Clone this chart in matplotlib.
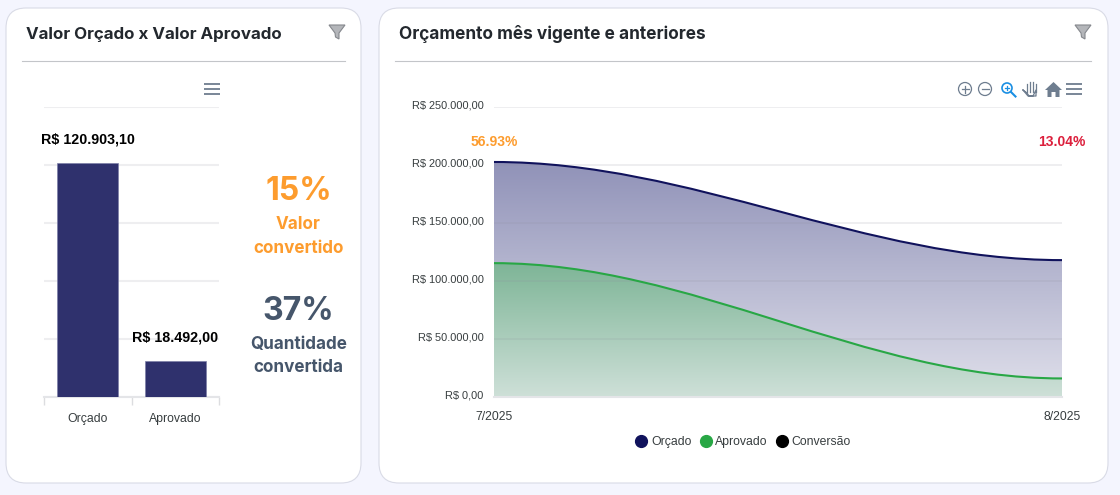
import numpy as np
import matplotlib
matplotlib.use('Agg')
import matplotlib.pyplot as plt
from matplotlib.lines import Line2D
from matplotlib.patches import Circle, FancyBboxPatch, PathPatch, Polygon
from matplotlib.path import Path
from matplotlib.transforms import ScaledTranslation

W, H = 1120, 495

# left chart
bar_labels = ["Orçado", "Aprovado"]
bar_values = [120903.10, 18492.00]
bar_texts = ["R$ 120.903,10", "R$ 18.492,00"]

# right chart
months = ["7/2025", "8/2025"]
orcado = [202600, 118000]
aprovado = [115400, 16000]
conversao = ["56.93%", "13.04%"]
y_ticks = [0, 50000, 100000, 150000, 200000, 250000]
y_labels = ["R$ 0,00", "R$ 50.000,00", "R$ 100.000,00", "R$ 150.000,00", "R$ 200.000,00", "R$ 250.000,00"]

NAVY = "#10125c"
GREEN = "#28a745"
ORANGE = "#fd9c2e"
SLATE = "#46566b"
GRID = "#eeeef0"
ICON = "#6e7d8f"
TITLE_FONT = "Inter"
ARIAL = "Liberation Sans"


def axes_px(fig, left, top, right, bottom):
    return fig.add_axes([left / W, 1 - bottom / H, (right - left) / W, (bottom - top) / H])


def smooth_path(y0, y1, closed=False):
    # ApexCharts style smooth segment between the two points
    verts = [(0, y0), (0.35, y0), (0.65, y1), (1, y1)]
    codes = [Path.MOVETO, Path.CURVE4, Path.CURVE4, Path.CURVE4]
    if closed:
        verts = [(0, 0), (0, y0)] + verts[1:] + [(1, 0), (0, 0)]
        codes = [Path.MOVETO, Path.LINETO] + codes[1:] + [Path.LINETO, Path.CLOSEPOLY]
    return Path(verts, codes)


def gradient_area(ax, y0, y1, top_color, bottom_color, zorder):
    c0 = np.array(matplotlib.colors.to_rgb(top_color))
    c1 = np.array(matplotlib.colors.to_rgb(bottom_color))
    t = np.linspace(0, 1, 256)[:, None, None]
    img = c0[None, None, :] * (1 - t) + c1[None, None, :] * t
    top = max(y0, y1)
    im = ax.imshow(img, extent=[0, 1, 0, top], origin="upper", aspect="auto", zorder=zorder)
    patch = PathPatch(smooth_path(y0, y1, closed=True), transform=ax.transData, fc="none", ec="none")
    ax.add_patch(patch)
    im.set_clip_path(patch)


def funnel(bg, x, y):
    bg.add_patch(Polygon([(x, y), (x + 16, y), (x + 10, y + 8), (x + 10, y + 14), (x + 6.5, y + 12), (x + 6, y + 8)],
                         closed=True, fc="#b4b6ba", ec="#85888d", lw=0.8))


def hamburger(bg, x0, x1, y):
    for dy in (-5, 0, 5):
        bg.plot([x0, x1], [y + dy, y + dy], color=ICON, lw=1.3, solid_capstyle="butt")


fig = plt.figure(figsize=(W / 100, H / 100), dpi=100, facecolor="#f4f5fe")

# page layer in pixel coordinates, cards and icons
bg = fig.add_axes([0, 0, 1, 1])
bg.set_xlim(0, W)
bg.set_ylim(H, 0)
bg.axis("off")

for x0, x1 in [(6, 361), (379, 1108)]:
    bg.add_patch(FancyBboxPatch((x0 + 20, 8 + 20), x1 - x0 - 40, 475 - 40, boxstyle="round,pad=20,rounding_size=20",
                                fc="white", ec="#d9dbe6", lw=0.8))

bg.text(26, 34, "Valor Orçado x Valor Aprovado", family=TITLE_FONT, weight="bold", fontsize=12.2,
        color="#23282e", va="center")
bg.text(399, 34, "Orçamento mês vigente e anteriores", family=TITLE_FONT, weight="bold", fontsize=12.4,
        color="#23282e", va="center")
bg.plot([22, 345], [60.5, 60.5], color="#c3c5c9", lw=0.8)
bg.plot([395, 1091], [60.5, 60.5], color="#c3c5c9", lw=0.8)
funnel(bg, 329, 25)
funnel(bg, 1075, 25)
hamburger(bg, 204, 220, 89)
hamburger(bg, 1066, 1082, 89)

# right chart toolbar
bg.add_patch(Circle((965, 89), 6.5, fc="none", ec=ICON, lw=0.9))
bg.plot([961.5, 968.5], [89, 89], color=ICON, lw=0.9)
bg.plot([965, 965], [85.5, 92.5], color=ICON, lw=0.9)
bg.add_patch(Circle((985, 89), 6.5, fc="none", ec=ICON, lw=0.9))
bg.plot([981.5, 988.5], [89, 89], color=ICON, lw=0.9)
bg.add_patch(Circle((1007, 88), 5, fc="none", ec="#1a8fe3", lw=1.2))
bg.plot([1011, 1015.5], [92, 96.5], color="#1a8fe3", lw=1.5)
bg.plot([1005, 1009], [88, 88], color="#1a8fe3", lw=0.9)
bg.plot([1007, 1007], [86, 90], color="#1a8fe3", lw=0.9)
for hx, htop in [(1027, 84), (1030, 82), (1033, 82), (1036, 84)]:
    bg.plot([hx, hx], [htop, 92], color=ICON, lw=0.9)
bg.plot([1023, 1027, 1029, 1036, 1036, 1033, 1028, 1023], [90, 93, 96, 96, 90, 96, 96, 90], color=ICON, lw=0.9)
bg.add_patch(Polygon([(1045, 90), (1053.5, 82), (1062, 90), (1059.5, 90), (1059.5, 97), (1055.5, 97), (1055.5, 92),
                      (1051.5, 92), (1051.5, 97), (1047.5, 97), (1047.5, 90)], closed=True, fc=ICON, ec="none"))

# big numbers
bg.text(298.5, 191, "15%", family=TITLE_FONT, weight="bold", fontsize=23, color=ORANGE, ha="center", va="center")
bg.text(298.5, 224.5, "Valor", family=TITLE_FONT, weight="bold", fontsize=12.3, color=ORANGE, ha="center", va="center")
bg.text(298.5, 248.5, "convertido", family=TITLE_FONT, weight="bold", fontsize=12.3, color=ORANGE, ha="center", va="center")
bg.text(298.5, 311, "37%", family=TITLE_FONT, weight="bold", fontsize=23, color=SLATE, ha="center", va="center")
bg.text(298.5, 344, "Quantidade", family=TITLE_FONT, weight="bold", fontsize=12.3, color=SLATE, ha="center", va="center")
bg.text(298.5, 368, "convertida", family=TITLE_FONT, weight="bold", fontsize=12.3, color=SLATE, ha="center", va="center")

# left bar chart
ax1 = axes_px(fig, 44, 107, 219, 397)
ax1.patch.set_alpha(0)
ax1.set_xlim(-0.5, 1.5)
ax1.set_ylim(0, 150000)
ax1.set_yticks(range(0, 150001, 30000))
ax1.tick_params(axis="y", length=0, labelleft=False)
ax1.grid(axis="y", color=GRID, lw=1.5)
ax1.set_axisbelow(True)
for s in ("top", "left", "right"):
    ax1.spines[s].set_visible(False)
ax1.spines["bottom"].set_color("#e4e5e8")
ax1.spines["bottom"].set_linewidth(1.5)
ax1.bar(range(2), bar_values, width=0.7, color="#2f316d", edgecolor="#7d7fa8", linewidth=0.5, zorder=3)
ax1.set_xticks([-0.5, 0.5, 1.5], minor=False)
ax1.set_xticklabels([])
ax1.tick_params(axis="x", length=6, color="#dcdde0", width=1)
for i, lab in enumerate(bar_labels):
    ax1.annotate(lab, (i, 0), xytext=(0, -22), textcoords="offset pixels", ha="center", va="center",
                 family=ARIAL, fontsize=8.8, color="#373d3f", annotation_clip=False)
    ax1.annotate(bar_texts[i], (i, bar_values[i]), xytext=(0, 24), textcoords="offset pixels", ha="center",
                 va="center", family=ARIAL, weight="bold", fontsize=10.3, color="black", annotation_clip=False)

# right area chart
ax2 = axes_px(fig, 494, 107, 1062, 397)
ax2.patch.set_alpha(0)
gradient_area(ax2, orcado[0], orcado[1], "#9092b8", "#e0e0eb", 1)
gradient_area(ax2, aprovado[0], aprovado[1], "#7eb597", "#cee0d8", 2)
ax2.set_xlim(0, 1)
ax2.set_ylim(0, 250000)
ax2.set_yticks(y_ticks)
ax2.set_yticklabels(y_labels, family=ARIAL, fontsize=7.9, color="#373d3f")
ax2.set_xticks([0, 1])
ax2.set_xticklabels(months, family=ARIAL, fontsize=8.8, color="#373d3f")
ax2.tick_params(axis="y", length=0, pad=7.5)
ax2.tick_params(axis="x", length=0, pad=10)
# tick labels sit a little above their grid lines
for lab in ax2.get_yticklabels():
    lab.set_transform(lab.get_transform() + ScaledTranslation(0, 2.5 / 100, fig.dpi_scale_trans))
for s in ("top", "left", "right"):
    ax2.spines[s].set_visible(False)
ax2.spines["bottom"].set_color("#e4e5e8")
ax2.spines["bottom"].set_linewidth(1.5)
for v in y_ticks[1:]:
    ax2.axhline(v, color="#90919f", alpha=0.18, lw=1.2, zorder=3)
ax2.add_patch(PathPatch(smooth_path(orcado[0], orcado[1]), fc="none", ec=NAVY, lw=1.5, zorder=4, clip_on=False))
ax2.add_patch(PathPatch(smooth_path(aprovado[0], aprovado[1]), fc="none", ec=GREEN, lw=1.5, zorder=4, clip_on=False))

ax2.text(0, 219800, conversao[0], family=ARIAL, weight="bold", fontsize=10, color=ORANGE, ha="center", va="center")
ax2.text(1, 219800, conversao[1], family=ARIAL, weight="bold", fontsize=10, color="#dc1f3c", ha="center", va="center")

handles = [Line2D([], [], ls="", marker="o", ms=8.5, color=c) for c in (NAVY, GREEN, "black")]
ax2.legend(handles, ["Orçado", "Aprovado", "Conversão"], ncol=3, frameon=False, loc="center",
           bbox_to_anchor=(0.4355, -0.156), prop={"family": ARIAL, "size": 8.8}, labelcolor="#373d3f",
           handletextpad=0.0, columnspacing=0.35, handlelength=1.6, borderpad=0)

fig.savefig("out.png", dpi=100, facecolor=fig.get_facecolor())
